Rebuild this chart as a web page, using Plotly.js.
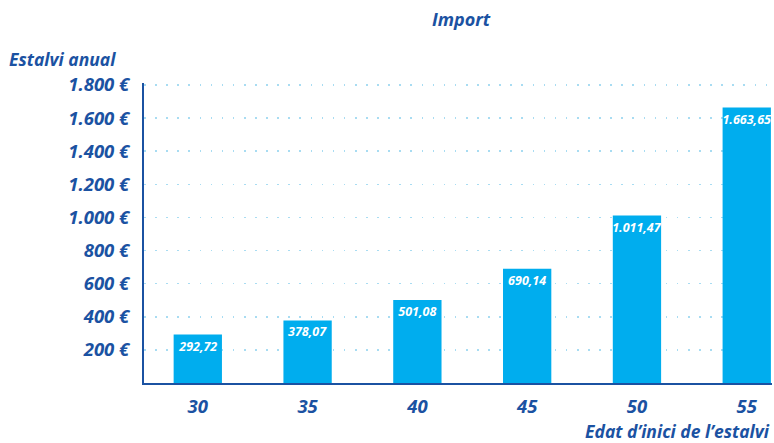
<!DOCTYPE html>
<html>
<head>
<meta charset="utf-8">
<script src="https://cdn.plot.ly/plotly-3.0.1.min.js"></script>
<style>html,body{margin:0;padding:0;background:#fff}#chart{width:774px;height:443px}</style>
</head>
<body>
<div id="chart"></div>
<script>
const ages = ['30', '35', '40', '45', '50', '55'];
const savings = [292.72, 378.07, 501.08, 690.14, 1011.47, 1663.65];
const savingsLabels = ['292,72', '378,07', '501,08', '690,14', '1.011,47', '1.663,65'];
const tickVals = [200, 400, 600, 800, 1000, 1200, 1400, 1600, 1800];
const tickLabels = ['200 €', '400 €', '600 €', '800 €', '1.000 €', '1.200 €', '1.400 €', '1.600 €', '1.800 €'];
const chartTitle = 'Import';
const yTitle = 'Estalvi anual';
const xTitle = 'Edat d\u2019inici de l\u2019estalvi';

const blue = '#1b52a2';
const barColor = '#00adee';
const fontFam = '"Open Sans", "Noto Sans", sans-serif';

const trace = {
  type: 'bar',
  x: ages,
  y: savings,
  text: savingsLabels,
  textposition: 'inside',
  insidetextanchor: 'end',
  constraintext: 'none',
  textangle: 0,
  textfont: {family: fontFam, size: 12.5, color: '#ffffff', weight: 'bold', style: 'italic'},
  marker: {color: barColor},
  width: 0.44,
  hoverinfo: 'none'
};

const layout = {
  width: 774, height: 443,
  margin: {l: 144, r: 2, t: 83, b: 60, pad: 0},
  paper_bgcolor: '#ffffff', plot_bgcolor: '#ffffff',
  showlegend: false,
  font: {family: fontFam, color: blue},
  title: {text: chartTitle, x: 461/774, xanchor: 'center', y: 1 - 20/443, yanchor: 'middle',
          font: {family: fontFam, size: 18, color: blue, weight: 'bold', style: 'italic'}},
  xaxis: {
    type: 'category',
    range: [-0.49, 5.23],
    showline: true, linecolor: blue, linewidth: 2,
    showgrid: false, zeroline: false, ticks: '',
    ticklabelstandoff: 6,
    tickfont: {family: fontFam, size: 18.5, color: blue, weight: 'bold', style: 'italic'}
  },
  yaxis: {
    range: [0, 1812],
    tickmode: 'array', tickvals: tickVals, ticktext: tickLabels,
    showline: true, linecolor: blue, linewidth: 2,
    showgrid: true, gridcolor: '#a8dcf2', gridwidth: 1.6, griddash: '1.6px,9.5px',
    zeroline: false, ticks: '',
    ticklabelstandoff: 9,
    tickfont: {family: fontFam, size: 18.5, color: blue, weight: 'bold', style: 'italic'}
  },
  annotations: [
    {text: yTitle, xref: 'paper', yref: 'paper', x: -137/630, xanchor: 'left', y: 1 + 24/300, yanchor: 'middle',
     showarrow: false, font: {family: fontFam, size: 17.5, color: blue, weight: 'bold', style: 'italic'}},
    {text: xTitle, xref: 'paper', yref: 'paper', x: 1, xanchor: 'right', y: -48/300, yanchor: 'middle',
     showarrow: false, font: {family: fontFam, size: 17.5, color: blue, weight: 'bold', style: 'italic'}}
  ]
};

Plotly.newPlot('chart', [trace], layout, {displayModeBar: false, staticPlot: true});
</script>
</body>
</html>
